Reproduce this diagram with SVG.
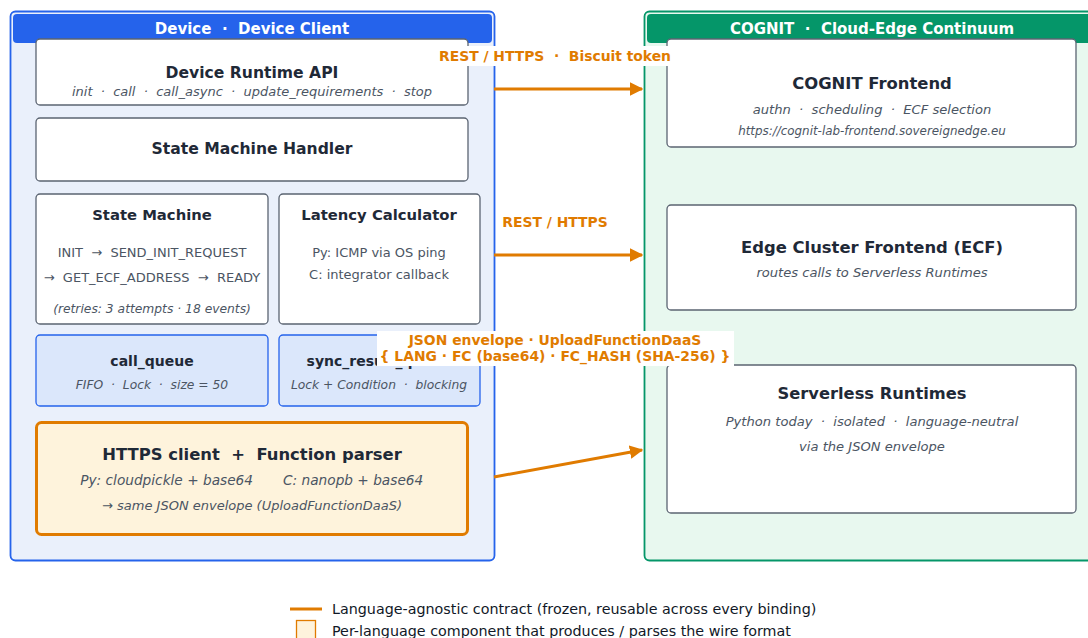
<svg xmlns="http://www.w3.org/2000/svg" width="1088" height="638" viewBox="0 0 1088 638" xml:space="preserve">
<style>
text{font-family:"DejaVu Sans","Liberation Sans",sans-serif;white-space:pre;}
.box{fill:#ffffff;stroke:#5b6472;stroke-width:1.3;}
.q{fill:#dbe7fb;stroke:#2563eb;stroke-width:1.3;}
.t{font-weight:bold;fill:#1f2937;text-anchor:middle;}
.s{font-style:italic;fill:#4b5563;text-anchor:middle;}
.n{fill:#4b5563;text-anchor:middle;font-size:13px;}
.hd{font-weight:bold;fill:#ffffff;text-anchor:middle;font-size:15px;}
.lbl{font-weight:bold;fill:#e07b00;text-anchor:middle;font-size:13.9px;}
.con{stroke:#e07b00;stroke-width:3;fill:none;}
.lg{fill:#111827;font-size:14.3px;}
</style>
<defs>
<marker id="ah" viewBox="0 0 10 10" refX="9" refY="5" markerWidth="4.5" markerHeight="4.5" orient="auto" markerUnits="strokeWidth">
<path d="M0,0 L10,5 L0,10 z" fill="#e07b00"/>
</marker>
</defs>
<rect width="1088" height="638" fill="#ffffff"/>

<g id="device">
<rect x="10.5" y="11.5" width="484" height="549" rx="5" fill="#eaf0fb" stroke="#2563eb" stroke-width="1.8"/>
<rect x="13" y="14" width="479" height="29" rx="4" fill="#2563eb"/>
<text class="hd" x="252" y="34">Device  ·  Device Client</text>
</g>

<g id="cognit">
<rect x="644.5" y="11.5" width="470" height="549" rx="5" fill="#e8f8ef" stroke="#059669" stroke-width="1.8"/>
<rect x="647" y="14" width="460" height="29" rx="4" fill="#059669"/>
<text class="hd" x="872" y="34">COGNIT  ·  Cloud-Edge Continuum</text>
</g>

<g id="runtime-api">
<rect class="box" x="36" y="39" width="432" height="66" rx="4"/>
<text class="t" x="252" y="78" font-size="15.6">Device Runtime API</text>
<text class="s" x="252" y="96" font-size="13">init  ·  call  ·  call_async  ·  update_requirements  ·  stop</text>
</g>

<g id="sm-handler">
<rect class="box" x="36" y="118" width="432" height="63" rx="4"/>
<text class="t" x="252" y="154" font-size="15.6">State Machine Handler</text>
</g>

<g id="state-machine">
<rect class="box" x="36" y="194" width="232" height="130" rx="4"/>
<text class="t" x="152" y="220" font-size="14.8">State Machine</text>
<text class="n" x="152" y="257">INIT  →  SEND_INIT_REQUEST</text>
<text class="n" x="152" y="282">→  GET_ECF_ADDRESS  →  READY</text>
<text class="s" x="152" y="313" font-size="12.3" fill="#6b7280">(retries: 3 attempts · 18 events)</text>
</g>

<g id="latency">
<rect class="box" x="279" y="194" width="201" height="130" rx="4"/>
<text class="t" x="379" y="220" font-size="14.8">Latency Calculator</text>
<text class="n" x="379" y="257">Py: ICMP via OS ping</text>
<text class="n" x="379" y="279">C: integrator callback</text>
</g>

<g id="call-queue">
<rect class="q" x="36" y="335" width="232" height="71" rx="4"/>
<text class="t" x="152" y="366" font-size="14">call_queue</text>
<text class="s" x="152" y="389" font-size="12.3">FIFO  ·  Lock  ·  size = 50</text>
</g>

<g id="sync-queue">
<rect class="q" x="279" y="335" width="201" height="71" rx="4"/>
<text class="t" x="379" y="366" font-size="14">sync_result_queue</text>
<text class="s" x="379" y="389" font-size="12.3">Lock + Condition  ·  blocking</text>
</g>

<g id="https-client">
<rect x="36.5" y="422.5" width="431" height="112" rx="5" fill="#fef3dc" stroke="#e07b00" stroke-width="3"/>
<text class="t" x="252" y="460" font-size="16.4">HTTPS client  +  Function parser</text>
<text class="s" x="253" y="485" font-size="13.7" text-anchor="end" style="text-anchor:end">Py: cloudpickle + base64</text>
<text class="s" x="283" y="485" font-size="13.7" style="text-anchor:start">C: nanopb + base64</text>
<text class="s" x="252" y="510" font-size="13">→ same JSON envelope (UploadFunctionDaaS)</text>
</g>

<g id="frontend">
<rect class="box" x="667" y="39" width="409" height="108" rx="4"/>
<text class="t" x="872" y="89" font-size="16.4">COGNIT Frontend</text>
<text class="s" x="872" y="114" font-size="13.1">authn  ·  scheduling  ·  ECF selection</text>
<text class="s" x="872" y="135" font-size="11.9" fill="#6b7280">https://cognit-lab-frontend.sovereignedge.eu</text>
</g>

<g id="ecf">
<rect class="box" x="667" y="205" width="409" height="105" rx="4"/>
<text class="t" x="872" y="253" font-size="16.4">Edge Cluster Frontend (ECF)</text>
<text class="s" x="872" y="277" font-size="13.1">routes calls to Serverless Runtimes</text>
</g>

<g id="serverless">
<rect class="box" x="667" y="365" width="409" height="148" rx="4"/>
<text class="t" x="872" y="399" font-size="16.3">Serverless Runtimes</text>
<text class="s" x="872" y="426" font-size="13.1">Python today  ·  isolated  ·  language-neutral</text>
<text class="s" x="872" y="451" font-size="13.1">via the JSON envelope</text>
</g>

<g id="connectors">
<line class="con" x1="494" y1="89" x2="642" y2="89" marker-end="url(#ah)"/>
<rect x="436" y="46" width="237" height="20" fill="#ffffff"/>
<text class="lbl" x="555" y="61" textLength="232" lengthAdjust="spacing">REST / HTTPS  ·  Biscuit token</text>
<line class="con" x1="494" y1="255" x2="642" y2="255" marker-end="url(#ah)"/>
<text class="lbl" x="555" y="227">REST / HTTPS</text>
<line class="con" x1="494" y1="477" x2="642" y2="450" marker-end="url(#ah)"/>
<rect x="377" y="331" width="357" height="35" fill="#ffffff"/>
<text class="lbl" x="555" y="345">JSON envelope · UploadFunctionDaaS</text>
<text class="lbl" x="555" y="361">{ LANG · FC (base64) · FC_HASH (SHA-256) }</text>
</g>

<g id="legend">
<line x1="290" y1="609" x2="322" y2="609" stroke="#e07b00" stroke-width="3"/>
<text class="lg" x="332" y="614">Language-agnostic contract (frozen, reusable across every binding)</text>
<rect x="296.5" y="620.5" width="19" height="20" fill="#fef3dc" stroke="#e07b00" stroke-width="1.3"/>
<text class="lg" x="332" y="636">Per-language component that produces / parses the wire format</text>
</g>
</svg>
